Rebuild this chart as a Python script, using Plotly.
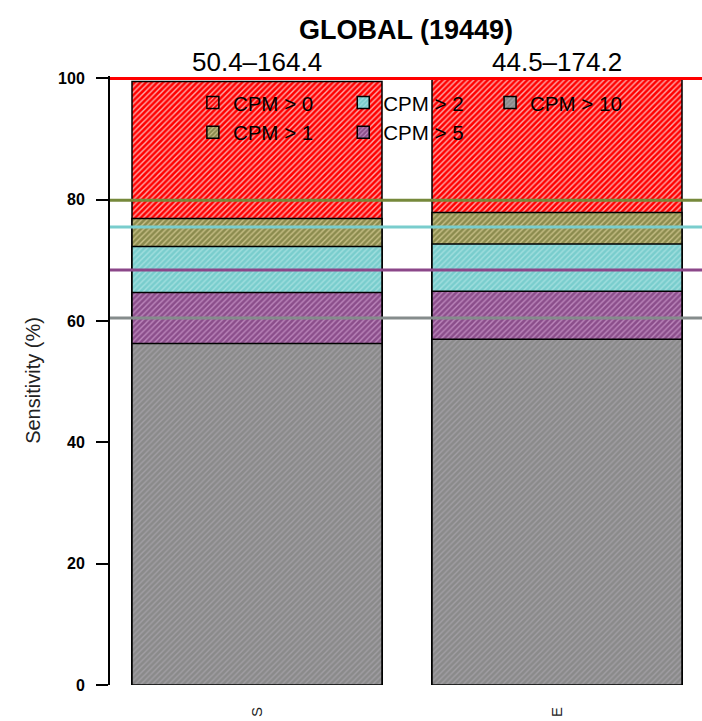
import plotly.graph_objects as go

# ---- data ----
groups = ["S", "E"]
range_labels = ["50.4–164.4", "44.5–174.2"]
thresholds = ["CPM > 0", "CPM > 1", "CPM > 2", "CPM > 5", "CPM > 10"]
sens_S = [99.5, 76.9, 72.3, 64.7, 56.3]
sens_E = [99.9, 77.9, 72.7, 64.9, 57.0]
global_ref = [100.0, 79.9, 75.5, 68.4, 60.5]
y_ticks = [0, 20, 40, 60, 80, 100]
title_text = "GLOBAL (19449)"
y_title = "Sensitivity (%)"

# ---- styles ----
bar_colors = ["#FF0000", "#8B8B4E", "#79CDCD", "#8B4E8B", "#8A8A8A"]
stripe_colors = ["rgba(255,190,190,0.9)", "rgba(215,205,150,0.8)", "rgba(190,235,235,0.6)",
                 "rgba(210,160,210,0.7)", "rgba(185,180,190,0.5)"]
line_colors = ["#FF0000", "#76893B", "#79CDCD", "#8B4789", "#858C8C"]
legend_ids = ["legend", "legend", "legend2", "legend2", "legend3"]
FONT = "Liberation Sans, Arial, sans-serif"

fig = go.Figure()
for i, name in enumerate(thresholds):
    fig.add_trace(go.Bar(
        x=groups,
        y=[sens_S[i], sens_E[i]],
        name=name,
        legend=legend_ids[i],
        marker=dict(
            color=bar_colors[i],
            opacity=1,
            line=dict(color="black", width=1.5),
            pattern=dict(shape="/", bgcolor=bar_colors[i], fgcolor=stripe_colors[i],
                         size=4, solidity=0.35, fillmode="replace"),
        ),
        hoverinfo="skip",
    ))

for v, c in zip(global_ref, line_colors):
    fig.add_shape(type="line", xref="paper", x0=0, x1=1, yref="y", y0=v, y1=v,
                  line=dict(color=c, width=3), layer="above")

for g, lab in zip(groups, range_labels):
    fig.add_annotation(x=g, y=100, xref="x", yref="y", text=lab, showarrow=False,
                       yanchor="bottom", yshift=-1, font=dict(family=FONT, size=26, color="black"))

leg_common = dict(xanchor="left", yanchor="top", bgcolor="rgba(0,0,0,0)", borderwidth=0,
                  font=dict(family=FONT, size=20.5, color="black"), tracegroupgap=0,
                  orientation="v")

fig.update_layout(
    width=702, height=721,
    margin=dict(l=110, r=0, t=76, b=36),
    paper_bgcolor="white", plot_bgcolor="white",
    barmode="overlay", bargap=1/6,
    title=dict(text="<b>" + title_text + "</b>", x=0.5, xref="paper", xanchor="center",
               y=1 - 30 / 721, yref="container", yanchor="middle",
               font=dict(family=FONT, size=27, color="black")),
    xaxis=dict(type="category", range=[-0.49, 1.4833], showline=False, ticks="",
               showgrid=False, zeroline=False, tickangle=-90, ticklabelstandoff=18,
               tickfont=dict(family=FONT, size=15, color="#222")),
    yaxis=dict(range=[0, 100.4], tickvals=y_ticks, showline=True, linewidth=2, linecolor="black",
               ticks="outside", ticklen=12, tickwidth=2, tickcolor="black",
               showgrid=False, zeroline=False, ticklabelstandoff=8,
               tickfont=dict(family=FONT, size=16, color="black", weight="bold"),
               title=dict(text=y_title, standoff=12, font=dict(family=FONT, size=20, color="#222"))),
    legend=dict(x=0.14, y=0.989, **leg_common),
    legend2=dict(x=0.394, y=0.989, **leg_common),
    legend3=dict(x=0.642, y=0.989, **leg_common),
)

fig.write_html("out.html")
